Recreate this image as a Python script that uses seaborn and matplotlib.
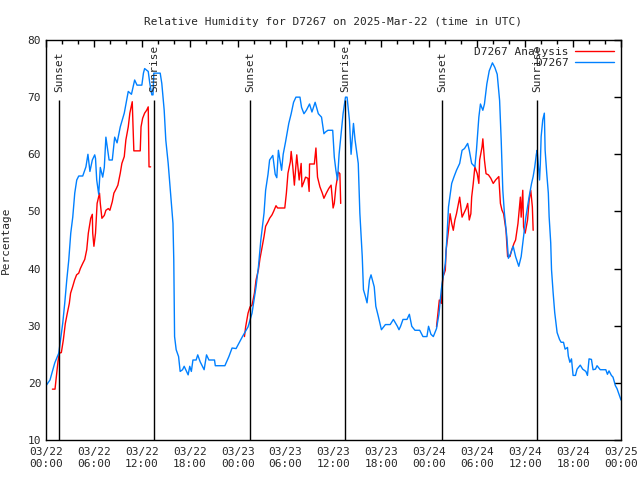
import matplotlib
matplotlib.use("Agg")
import matplotlib.pyplot as plt
from matplotlib.lines import Line2D
import numpy as np
import pandas as pd
import seaborn as sns

# hours since 2025-03-22 00:00 UTC
obs_hours = [
    0.0, 0.5, 1.1, 1.6, 2.1, 2.35, 2.6, 2.85, 3.1, 3.35, 3.6, 3.85, 4.1, 4.6,
    5.0, 5.25, 5.5, 5.8, 6.1, 6.2, 6.35, 6.6, 6.8, 7.1, 7.3, 7.5, 7.6, 7.9,
    8.3, 8.6, 8.9, 9.3, 9.8, 10.3, 10.7, 11.1, 11.4, 12.0, 12.2, 12.35, 12.8,
    13.0, 13.25, 13.4, 13.5, 14.3, 14.5, 14.8, 15.0, 15.3, 15.5, 15.7, 15.9,
    16.0, 16.06, 16.1, 16.3, 16.6, 16.8, 17.1, 17.3, 17.8, 18.0, 18.2, 18.4,
    18.8, 19.0, 19.3, 19.8, 20.1, 20.4, 21.1, 21.2, 22.4, 22.9, 23.3, 23.8,
    24.6, 25.3, 25.8, 26.3, 26.6, 26.9, 27.3, 27.5, 27.8, 28.0, 28.4, 28.7,
    28.9, 29.1, 29.5, 29.7, 30.0, 30.4, 30.7, 31.0, 31.3, 31.8, 32.0, 32.3,
    32.6, 33.0, 33.3, 33.7, 34.1, 34.5, 34.8, 35.0, 35.3, 35.9, 36.1, 36.3,
    36.5, 36.7, 37.0, 37.2, 37.5, 37.7, 38.0, 38.2, 38.5, 38.7, 39.1, 39.3,
    39.6, 39.75, 40.0, 40.2, 40.5, 40.7, 41.1, 41.3, 41.6, 42.0, 42.5, 43.1,
    43.5, 44.0, 44.2, 44.4, 44.7, 45.2, 45.5, 45.8, 46.2, 46.8, 47.2, 47.7,
    47.9, 48.2, 48.5, 48.9, 49.2, 49.5, 49.6, 50.0, 50.2, 50.4, 50.8, 51.1,
    51.4, 51.8, 52.1, 52.4, 52.8, 53.0, 53.3, 53.7, 53.9, 54.2, 54.4, 54.7,
    54.9, 55.2, 55.5, 55.9, 56.2, 56.5, 56.8, 57.0, 57.2, 57.4, 57.7, 57.9,
    58.2, 58.5, 58.8, 59.2, 59.5, 59.8, 60.1, 60.5, 60.8, 61.0, 61.2, 61.4,
    61.5, 61.8, 61.9, 62.0, 62.2, 62.4, 62.5, 62.7, 62.9, 63.0, 63.2, 63.3,
    63.5, 63.7, 63.9, 64.0, 64.3, 64.5, 64.8, 65.0, 65.3, 65.4, 65.6, 65.8,
    66.0, 66.3, 66.5, 66.9, 67.2, 67.6, 67.8, 68.0, 68.3, 68.5, 68.8, 69.0,
    69.4, 70.1, 70.3, 70.5, 70.8, 71.0, 71.3, 71.5, 71.8, 72.0,
]
obs_rh = [
    19.5, 20.5, 23.5, 25.2, 30.5, 34.0, 38.0, 41.5, 46.2, 49.0, 53.2, 55.5, 56.2, 56.2,
    57.8, 60.0, 57.0, 59.0, 59.9, 59.3, 55.5, 53.0, 57.7, 56.0, 57.7, 63.0, 62.0, 59.0,
    59.0, 63.0, 62.0, 64.8, 67.2, 71.0, 70.5, 73.0, 72.1, 72.1, 74.2, 75.0, 74.5,
    72.4, 70.4, 70.4, 74.2, 74.2, 72.4, 67.7, 62.5, 58.4, 54.9, 51.4, 47.9,
    41.5, 33.3, 28.1, 25.8, 24.6, 22.0, 22.3, 22.9, 21.4, 22.9, 22.0, 24.0,
    24.0, 24.9, 23.7, 22.3, 24.9, 24.0, 24.0, 23.0, 23.0, 24.6, 26.1, 26.0,
    28.1, 29.8, 32.2, 36.8, 40.3, 45.0, 49.7, 53.7, 56.5, 59.0, 59.8, 56.5,
    55.9, 60.7, 57.2, 60.0, 62.2, 65.4, 67.1, 69.1, 70.0, 70.0, 68.2, 67.1,
    67.7, 68.8, 67.4, 69.1, 67.1, 66.5, 63.6, 63.9, 64.2, 64.2, 59.5, 57.2,
    55.5, 60.0, 64.2, 67.1, 70.0, 70.0, 65.9, 60.0, 65.4, 62.5, 58.4, 49.7,
    42.1, 36.3, 35.1, 34.0, 38.0, 38.9, 36.8, 33.4, 31.7, 29.3, 30.2, 30.2,
    31.1, 29.9, 29.3, 29.9, 31.1, 31.1, 32.0, 29.9, 29.2, 29.2, 28.1, 28.1,
    29.9, 28.5, 28.1, 29.5, 32.0, 36.3, 37.4, 40.9, 45.4, 50.8, 54.9, 56.1,
    57.2, 58.4, 60.7, 61.0, 61.9, 60.7, 58.4, 57.8, 60.7, 66.5, 68.8, 67.7,
    68.8, 72.3, 74.6, 76.0, 75.2, 74.0, 69.4, 62.4, 53.7, 49.7, 45.6, 41.8,
    42.7, 43.9, 42.1, 40.4, 42.1, 45.6, 49.1, 52.6, 54.9, 56.1, 57.8, 60.0,
    60.7, 55.5, 58.4, 63.1, 66.0, 67.2, 60.7, 56.7, 53.2, 49.1, 44.5, 39.8,
    35.8, 32.3, 30.0, 28.8, 27.6, 27.1, 27.1, 25.9, 26.2, 24.7, 23.6, 24.2,
    21.3, 21.3, 22.4, 23.1, 22.4, 22.0, 21.3, 24.2, 24.1, 22.3, 22.4, 23.0,
    22.3, 22.3, 21.5, 22.1, 21.3, 21.0, 19.5, 19.0, 17.8, 17.0,
]

# analysis, three separate overnight runs
ana_hours_1 = [
    0.8, 1.13, 1.25, 1.5, 1.67, 1.92, 2.17, 2.42, 2.67, 2.92, 3.08, 3.33, 3.58,
    3.83, 4.1, 4.3, 4.6, 4.85, 5.1, 5.3, 5.6, 5.8, 5.85, 6.0, 6.2, 6.4, 6.7,
    6.8, 7.0, 7.3, 7.5, 7.8, 8.0, 8.3, 8.5, 8.8, 9.0, 9.3, 9.5, 9.8, 10.0,
    10.3, 10.5, 10.8, 10.9, 11.0, 11.8, 11.9, 12.1, 12.35, 12.6, 12.8, 12.9, 13.1,
]
ana_rh_1 = [
    18.9, 18.9, 20.5, 23.7, 25.2, 25.3, 27.5, 30.4, 32.2, 33.9, 35.7, 36.8, 38.0,
    38.9, 39.2, 40.0, 40.9, 41.6, 43.3, 46.2, 48.8, 49.5, 46.2, 43.9, 46.2, 51.4, 53.2,
    51.4, 48.8, 49.3, 50.2, 50.5, 50.2, 51.7, 53.2, 54.0, 54.6, 56.7, 58.4, 59.6, 62.5,
    64.8, 67.2, 69.2, 64.8, 60.6, 60.6, 64.8, 66.3, 67.2, 67.7, 68.3, 57.8, 57.8,
]
ana_hours_2 = [
    24.85, 25.0, 25.3, 25.55, 25.8, 26.1, 26.3, 26.6, 26.8, 27.0, 27.3, 27.5,
    27.8, 28.0, 28.3, 28.5, 28.8, 29.0, 29.9, 30.1, 30.3, 30.6, 30.7, 30.9,
    31.1, 31.2, 31.4, 31.6, 31.7, 31.95, 32.05, 32.3, 32.5, 32.8, 32.95, 33.0,
    33.6, 33.8, 34.0, 34.3, 34.6, 34.8, 35.1, 35.4, 35.7, 35.95, 36.1, 36.3,
    36.6, 36.8, 36.9,
]
ana_rh_2 = [
    28.1, 29.8, 32.2, 33.3, 33.6, 35.7, 38.0, 39.8, 41.8, 43.3, 45.6, 47.4,
    48.2, 48.8, 49.4, 50.0, 51.0, 50.6, 50.6, 53.2, 56.7, 58.7, 60.5, 57.9,
    54.6, 56.4, 59.9, 57.0, 55.5, 58.4, 54.3, 55.2, 56.0, 55.8, 53.5, 58.3,
    58.3, 61.1, 56.0, 54.3, 53.2, 52.3, 53.2, 54.0, 54.6, 50.6, 51.4, 54.3,
    56.9, 56.6, 51.4,
]
ana_hours_3 = [
    48.9, 49.25, 49.5, 49.7, 50.0, 50.1, 50.4, 50.6, 50.8, 51.0, 51.2, 51.4,
    51.8, 52.1, 52.3, 52.6, 52.8, 53.0, 53.2, 53.3, 53.5, 53.7, 54.0, 54.2,
    54.3, 54.6, 54.7, 54.9, 55.1, 55.4, 55.7, 56.0, 56.3, 56.7, 56.9, 57.1,
    57.3, 57.6, 57.8, 58.1, 58.3, 58.6, 58.8, 59.1, 59.4, 59.5, 59.7, 59.8,
    60.0, 60.3, 60.5, 60.7, 60.9, 61.0,
]
ana_rh_3 = [
    29.8, 34.5, 33.9, 38.5, 39.7, 43.2, 46.7, 49.6, 47.9, 46.7, 48.5, 49.6,
    52.5, 49.0, 49.6, 50.5, 51.4, 48.5, 49.6, 52.5, 54.9, 57.8, 56.6, 54.9,
    59.0, 61.3, 62.7, 59.0, 56.6, 56.4, 55.8, 54.9, 55.5, 56.1, 51.4, 50.2,
    49.6, 46.7, 42.1, 42.1, 43.2, 44.4, 45.0, 47.9, 52.5, 49.0, 53.7, 47.3,
    46.2, 48.5, 52.0, 53.7, 50.8, 46.7,
]

sun_hours = [1.67, 13.57, 25.6, 37.5, 49.6, 61.5]
sun_labels = ["Sunset", "Sunrise", "Sunset", "Sunrise", "Sunset", "Sunrise"]

tick_hours = list(range(0, 73, 6))
tick_labels = [
    "03/22\n00:00", "03/22\n06:00", "03/22\n12:00", "03/22\n18:00",
    "03/23\n00:00", "03/23\n06:00", "03/23\n12:00", "03/23\n18:00",
    "03/24\n00:00", "03/24\n06:00", "03/24\n12:00", "03/24\n18:00",
    "03/25\n00:00",
]

RED = "#ff0000"
BLUE = "#0080ff"

sns.set_style("white")
plt.rcParams["font.family"] = ["DejaVu Sans Mono"]
plt.rcParams["font.size"] = 8

obs = pd.DataFrame({"hour": obs_hours, "rh": obs_rh})
ana = pd.concat(
    [
        pd.DataFrame({"hour": h, "rh": v, "run": i})
        for i, (h, v) in enumerate(
            [(ana_hours_1, ana_rh_1), (ana_hours_2, ana_rh_2), (ana_hours_3, ana_rh_3)]
        )
    ],
    ignore_index=True,
)

fig = plt.figure(figsize=(6.4, 4.8), dpi=100)
ax = fig.add_axes([46 / 640, 40 / 480, 575 / 640, 400 / 480])

sns.lineplot(data=ana, x="hour", y="rh", units="run", estimator=None,
             color=RED, lw=1, ax=ax, legend=False)
sns.lineplot(data=obs, x="hour", y="rh", color=BLUE, lw=1, ax=ax,
             legend=False)

ax.vlines(sun_hours, 10, 69.5, color="black", lw=1)
for h, lab in zip(sun_hours, sun_labels):
    ax.text(h, 70.9, lab, rotation=90, ha="center", va="bottom", fontsize=8)

ax.set_xlim(0, 72)
ax.set_ylim(10, 80)
ax.set_xticks(tick_hours)
ax.set_xticklabels(tick_labels)
ax.set_xticks(np.arange(0, 73, 2), minor=True)
ax.set_yticks(range(10, 81, 10))
ax.tick_params(which="both", direction="in", top=True, right=True,
               labelsize=8, color="black")
ax.tick_params(which="major", length=5, width=1)
ax.tick_params(which="minor", length=3, width=1)
ax.tick_params(axis="x", pad=5)
for s in ax.spines.values():
    s.set_color("black")
    s.set_linewidth(1)

ax.set_xlabel("")
ax.set_ylabel("Percentage", fontsize=8, labelpad=12)
ax.set_title("Relative Humidity for D7267 on 2025-Mar-22 (time in UTC)",
             fontsize=8, pad=11)

handles = [Line2D([], [], color=RED, lw=1), Line2D([], [], color=BLUE, lw=1)]
ax.legend(handles, ["D7267 Analysis", "D7267"], loc="upper right",
          frameon=False, markerfirst=False, handlelength=3.5, fontsize=8,
          borderaxespad=0.2, labelspacing=0.1, handletextpad=0.6)

fig.savefig("out.png", dpi=100)
